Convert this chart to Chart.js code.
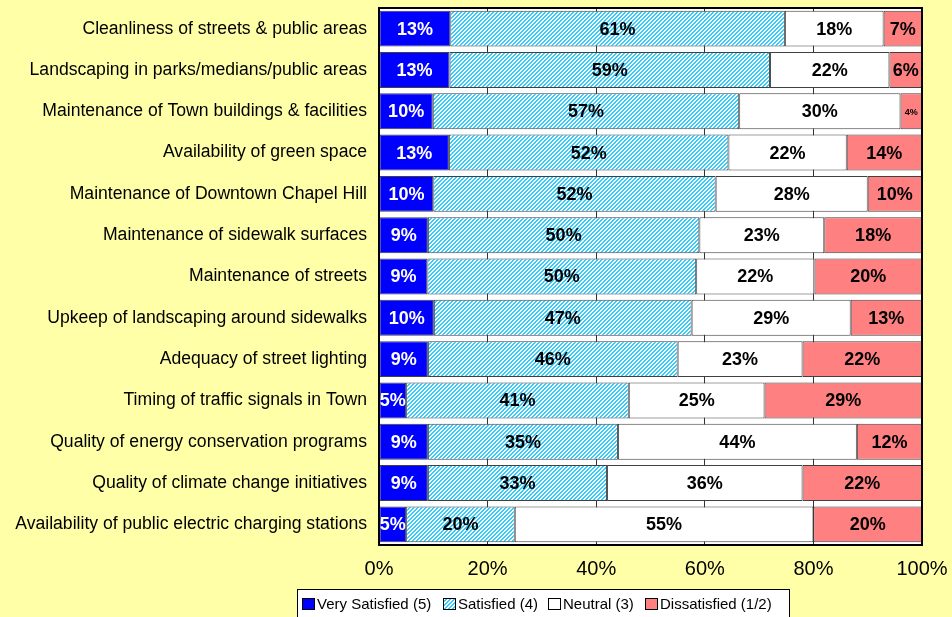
<!DOCTYPE html>
<html>
<head>
<meta charset="utf-8">
<script src="https://cdn.jsdelivr.net/npm/chart.js@4.4.1/dist/chart.umd.min.js"></script>
<style>
  html, body { margin: 0; padding: 0; background: #FFFFA8; }
  #wrap { width: 952px; height: 617px; position: relative; }
</style>
</head>
<body>
<div id="wrap"><canvas id="c" width="952" height="617"></canvas></div>
<script>
const categories = [
  "Cleanliness of streets & public areas",
  "Landscaping in parks/medians/public areas",
  "Maintenance of Town buildings & facilities",
  "Availability of green space",
  "Maintenance of Downtown Chapel Hill",
  "Maintenance of sidewalk surfaces",
  "Maintenance of streets",
  "Upkeep of landscaping around sidewalks",
  "Adequacy of street lighting",
  "Timing of traffic signals in Town",
  "Quality of energy conservation programs",
  "Quality of climate change initiatives",
  "Availability of public electric charging stations"
];
const verySatisfied = [13, 13, 10, 13, 10, 9, 9, 10, 9, 5, 9, 9, 5];
const satisfied     = [61, 59, 57, 52, 52, 50, 50, 47, 46, 41, 35, 33, 20];
const neutral       = [18, 22, 30, 22, 28, 23, 22, 29, 23, 25, 44, 36, 55];
const dissatisfied  = [7, 6, 4, 14, 10, 18, 20, 13, 22, 29, 12, 22, 20];
const seriesNames = ["Very Satisfied (5)", "Satisfied (4)", "Neutral (3)", "Dissatisfied (1/2)"];
const tickLabels = ["0%", "20%", "40%", "60%", "80%", "100%"];

const raw = [verySatisfied, satisfied, neutral, dissatisfied];
const totals = categories.map((_, i) => raw.reduce((s, a) => s + a[i], 0));
const norm = raw.map(a => a.map((v, i) => v / totals[i] * 100));

function makeHatch() {
  const p = document.createElement('canvas');
  p.width = 4; p.height = 4;
  const g = p.getContext('2d');
  g.fillStyle = '#FFFFFF';
  g.fillRect(0, 0, 4, 4);
  g.fillStyle = '#33CCFF';
  for (let y = 0; y < 4; y++) {
    for (let x = 0; x < 4; x++) {
      if ((x + y) % 4 < 2) g.fillRect(x, y, 1, 1);
    }
  }
  return g.createPattern(p, 'repeat');
}
const ctx0 = document.getElementById('c').getContext('2d');
const hatch = makeHatch();
const fills = ['#0000FF', hatch, '#FFFFFF', '#FF8080'];
const labelColors = ['#FFFFFF', '#000000', '#000000', '#000000'];
const FONT = '"Liberation Sans", Arial, sans-serif';

const bgPlugin = {
  id: 'bg',
  beforeDraw(chart) {
    const c = chart.ctx, a = chart.chartArea;
    c.save();
    c.fillStyle = '#FFFFA8';
    c.fillRect(0, 0, chart.width, chart.height);
    c.fillStyle = '#FFFFFF';
    c.fillRect(a.left, a.top, a.right - a.left, a.bottom - a.top);
    c.restore();
  },
  afterDatasetsDraw(chart) {
    const c = chart.ctx, a = chart.chartArea;
    c.save();
    c.textAlign = 'center';
    c.textBaseline = 'middle';
    chart.data.datasets.forEach((ds, di) => {
      const meta = chart.getDatasetMeta(di);
      meta.data.forEach((bar, i) => {
        const txt = raw[di][i] + '%';
        const w = Math.abs(bar.x - bar.base);
        let size = 18;
        c.font = 'bold ' + size + 'px ' + FONT;
        if (c.measureText(txt).width > w + 2) {
          size = 9;
          c.font = 'bold ' + size + 'px ' + FONT;
        }
        c.fillStyle = labelColors[di];
        c.fillText(txt, (bar.x + bar.base) / 2, bar.y + 1);
      });
    });
    c.strokeStyle = '#000000';
    c.lineWidth = 2;
    c.strokeRect(a.left, a.top, a.right - a.left, a.bottom - a.top);
    c.restore();
  },
  afterDraw(chart) {
    const c = chart.ctx;
    c.save();
    const lx = 297, ly = 589, lw = 492, lh = 40;
    c.fillStyle = '#FFFFFF';
    c.fillRect(lx, ly, lw, lh);
    c.strokeStyle = '#000000';
    c.lineWidth = 1;
    c.strokeRect(lx + 0.5, ly + 0.5, lw, lh);
    const swX = [302, 443, 548, 645];
    c.font = '15px ' + FONT;
    c.textBaseline = 'middle';
    c.textAlign = 'left';
    seriesNames.forEach((name, i) => {
      c.fillStyle = fills[i];
      c.fillRect(swX[i], 598, 13, 12);
      c.strokeStyle = '#000000';
      c.strokeRect(swX[i] + 0.5, 598.5, 12, 11);
      c.fillStyle = '#000000';
      c.fillText(name, swX[i] + 15, 605);
    });
    c.restore();
  }
};

new Chart(ctx0, {
  type: 'bar',
  data: {
    labels: categories,
    datasets: seriesNames.map((n, i) => ({
      label: n,
      data: norm[i],
      backgroundColor: fills[i],
      borderColor: '#404040',
      borderWidth: 1,
      borderSkipped: false,
      barPercentage: 0.87,
      categoryPercentage: 1.0
    }))
  },
  options: {
    indexAxis: 'y',
    responsive: false,
    animation: false,
    devicePixelRatio: 1,
    layout: { padding: { top: 8, right: 30, left: 0, bottom: 0 } },
    plugins: {
      legend: { display: false },
      tooltip: { enabled: false }
    },
    scales: {
      x: {
        stacked: true,
        min: 0, max: 100,
        border: { display: false },
        grid: { color: '#333333', lineWidth: 1, drawTicks: false },
        ticks: {
          stepSize: 20,
          padding: 12,
          color: '#000000',
          font: { family: FONT, size: 20 },
          callback: (v) => tickLabels[v / 20]
        },
        afterFit(s) { s.height = 72; s.paddingLeft = 0; s.paddingRight = 0; }
      },
      y: {
        stacked: true,
        border: { display: false },
        grid: { display: false, drawTicks: false },
        ticks: {
          padding: 12,
          color: '#000000',
          font: { family: FONT, size: 17.6 }
        },
        afterFit(s) { s.width = 379; s.paddingTop = 0; s.paddingBottom = 0; }
      }
    }
  },
  plugins: [bgPlugin]
});
</script>
</body>
</html>
